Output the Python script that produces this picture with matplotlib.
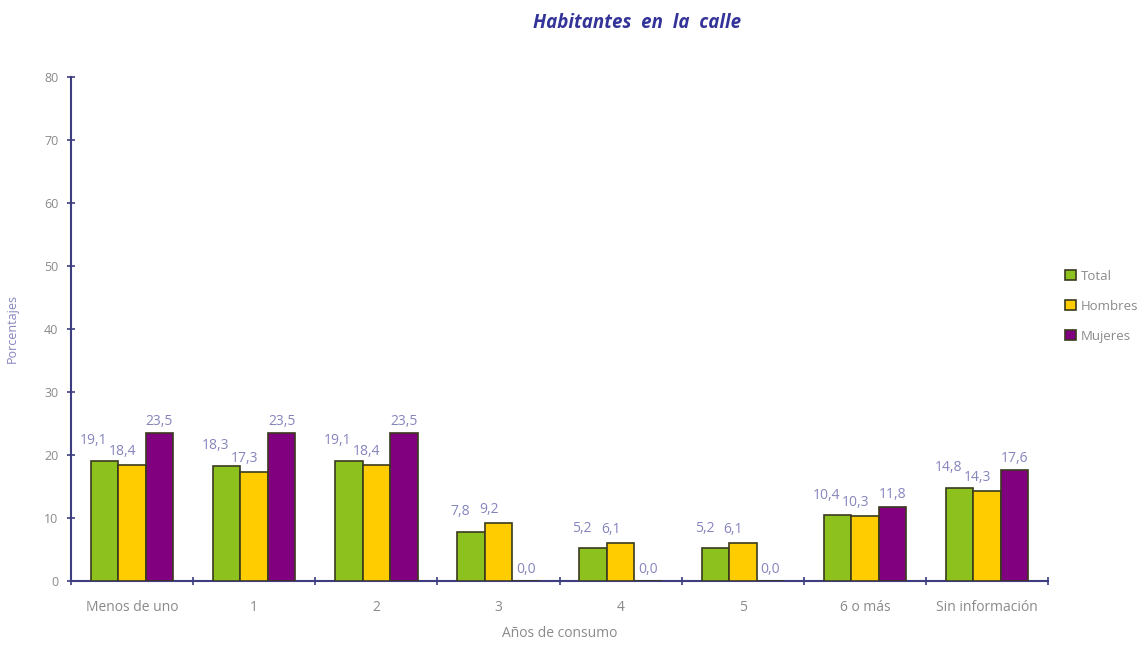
import numpy as np
import matplotlib
matplotlib.use("Agg")
import matplotlib.pyplot as plt

# --- Data ---
categories = ["Menos de uno", "1", "2", "3", "4", "5", "6 o más", "Sin información"]
total = [19.1, 18.3, 19.1, 7.8, 5.2, 5.2, 10.4, 14.8]
hombres = [18.4, 17.3, 18.4, 9.2, 6.1, 6.1, 10.3, 14.3]
mujeres = [23.5, 23.5, 23.5, 0.0, 0.0, 0.0, 11.8, 17.6]
series_names = ["Total", "Hombres", "Mujeres"]
y_ticks = [0, 10, 20, 30, 40, 50, 60, 70, 80]

# --- Styling ---
COLORS = ["#8DC21E", "#FFCC00", "#800080"]
EDGE = "#3a3a1e"
AXIS_COLOR = "#3d3d80"
LABEL_COLOR = "#8585bd"
TICK_COLOR = "#8a8a8a"
FONT = "Open Sans"

plt.rcParams["font.family"] = [FONT, "DejaVu Sans"]

fig = plt.figure(figsize=(11.47, 6.52), dpi=100)
ax = fig.add_axes([0.0619, 0.109, 0.852, 0.773])

x = np.arange(len(categories))
width = 0.225
offsets = [-width, 0, width]
# label offsets (points) and horizontal shifts (data units) per series
label_dy = [9, 4, 3]
label_dx = [-0.09, -0.08, 0.0]

for i, (vals, name) in enumerate(zip([total, hombres, mujeres], series_names)):
    ax.bar(x + offsets[i], vals, width, color=COLORS[i], edgecolor=EDGE,
           linewidth=1.2, label=name, zorder=3)
    for xi, v in zip(x, vals):
        ax.annotate(f"{v:.1f}".replace(".", ","),
                    xy=(xi + offsets[i] + label_dx[i], v),
                    xytext=(0, label_dy[i]), textcoords="offset points",
                    ha="center", va="bottom", fontsize=10, color=LABEL_COLOR)

ax.set_xlim(-0.5, len(categories) - 0.5)
ax.set_ylim(0, 80)
ax.set_yticks(y_ticks)
ax.set_yticklabels([str(t) for t in y_ticks], color=TICK_COLOR, fontsize=9)

# ticks at category boundaries, labels at centers
ax.set_xticks(np.arange(len(categories) + 1) - 0.5)
ax.set_xticklabels([])
ax.set_xticks(x, minor=True)
ax.set_xticklabels(categories, minor=True, color=TICK_COLOR, fontsize=10)
ax.tick_params(axis="x", which="minor", length=0, pad=14)
ax.tick_params(axis="x", which="major", direction="inout", length=6,
               color=AXIS_COLOR, width=1.2)
ax.tick_params(axis="y", direction="inout", length=6, color=AXIS_COLOR,
               width=1.2, pad=6)

for s in ["top", "right"]:
    ax.spines[s].set_visible(False)
for s in ["left", "bottom"]:
    ax.spines[s].set_color(AXIS_COLOR)
    ax.spines[s].set_linewidth(1.5)

ax.set_ylabel("Porcentajes", color=LABEL_COLOR, fontsize=9, labelpad=18)
ax.set_xlabel("Años de consumo", color=TICK_COLOR, fontsize=10, labelpad=8)

fig.text(0.555, 0.965, "Habitantes  en  la  calle", ha="center", va="center",
         fontsize=13.5, fontweight="bold", fontstyle="italic", color="#333399")

leg = ax.legend(loc="center left", bbox_to_anchor=(1.005, 0.545), frameon=False,
                handlelength=0.8, handleheight=0.8, handletextpad=0.4,
                labelspacing=1.3, fontsize=9.5)
for t in leg.get_texts():
    t.set_color(TICK_COLOR)

fig.savefig("out.png", dpi=100)
